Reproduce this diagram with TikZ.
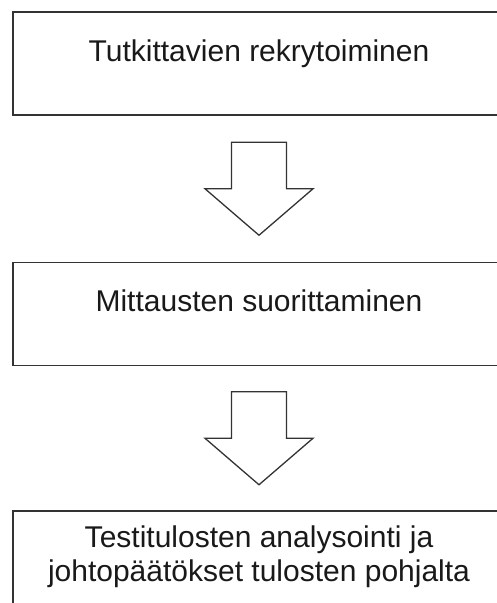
\documentclass[tikz,border=0pt]{standalone}
\usepackage{fontspec}
\setmainfont{Liberation Sans}
\usetikzlibrary{positioning,calc}

\tikzset{
  stage/.style={draw=black!80, line width=1.5pt, minimum width=492pt, minimum height=103pt, inner sep=0pt},
  stagetext/.style={anchor=base, align=center, text=black!90, font=\fontsize{30}{34}\selectfont},
  pics/downarrow/.style={code={
    \draw[line width=1.3pt, draw=black!80] (-27.5,-46.5) -- (27.5,-46.5) -- (27.5,0) -- (54,0) -- (0,46.5) -- (-54,0) -- (-27.5,0) -- cycle;
  }}
}

\begin{document}
\begin{tikzpicture}[x=1pt,y=-1pt]
	\useasboundingbox (0,0) rectangle (497,603);
	\node [stage] (rekry) at (259,63.5) {};
	\node [stage, below=146pt of rekry] (mittaus) {};
	\node [stage, below=144pt of mittaus] (analyysi) {};
	\node [stagetext] (rekrytxt) at ([yshift=-50pt]rekry.north) {Tutkittavien rekrytoiminen};
	\node [stagetext] (mittaustxt) at ([yshift=-50pt]mittaus.north) {Mittausten suorittaminen};
	\node [stagetext] (analyysitxt) at ([yshift=-71pt]analyysi.north) {Testitulosten analysointi ja\\johtopäätökset tulosten pohjalta};
	\pic at ($(rekry.south)!.5!(mittaus.north)$) {downarrow};
	\pic at ($(mittaus.south)!.5!(analyysi.north)$) {downarrow};
\end{tikzpicture}
\end{document}
